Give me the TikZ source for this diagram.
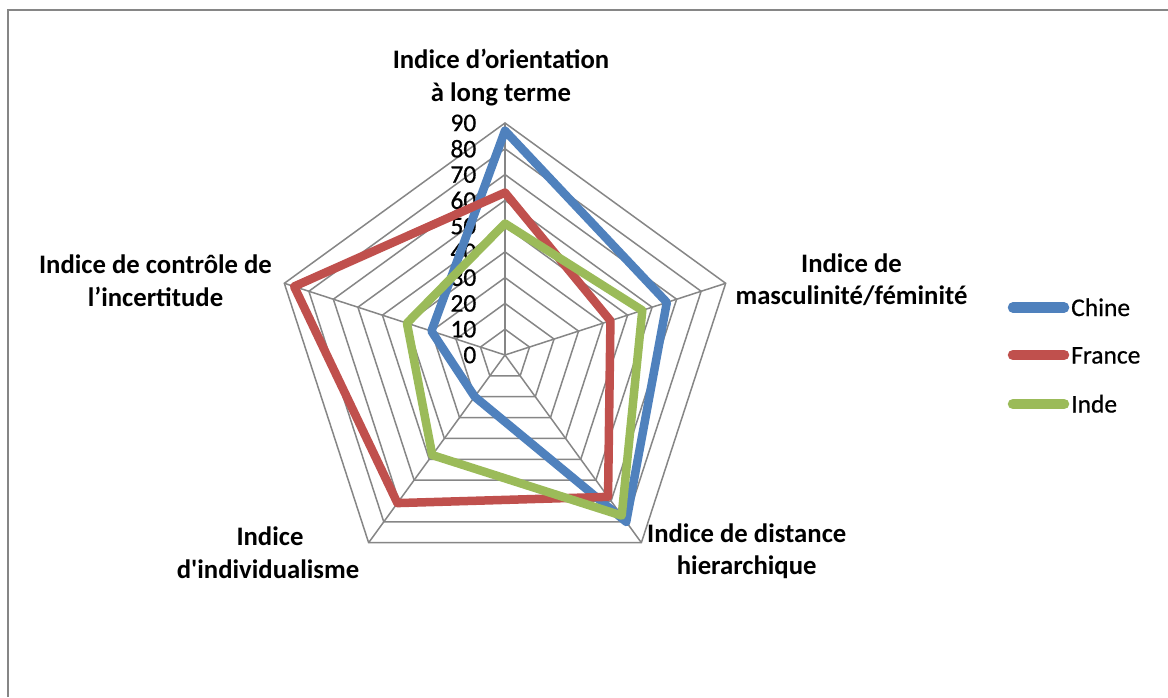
\documentclass[tikz,border=0pt]{standalone}
\usepackage{fontspec}
\setmainfont{Carlito}
\newfontfamily\regfont[FakeBold=0.6]{Carlito}
\definecolor{chine}{HTML}{4F81BD}
\definecolor{france}{HTML}{C0504D}
\definecolor{inde}{HTML}{9BBB59}
\definecolor{gridgray}{HTML}{868686}
\begin{document}
\begin{tikzpicture}[x=1pt,y=1pt,
  grid/.style={draw=gridgray, line width=1.5pt},
  series/.style={line width=8.5pt, line join=round},
  axlabel/.style={font=\fontsize{26.7}{33}\selectfont\bfseries, anchor=base, inner sep=0pt},
  tick/.style={font=\regfont\fontsize{25.5}{25.5}\selectfont, anchor=east, inner sep=0pt},
  legline/.style={line width=10.5pt, line cap=round},
  legtext/.style={font=\regfont\fontsize{25.5}{25.5}\selectfont, anchor=base west, inner sep=0pt}]
\useasboundingbox (0,0) rectangle (1168,-697);
\fill[white] (0,0) rectangle (1168,-697);
\draw[gridgray, line width=1.6pt] (8,-697) -- (8,-10) -- (1168,-10);
\def\s{2.578}
\begin{scope}[shift={(505,-355)}]
  \coordinate (O) at (0,0);
  \foreach \k in {1,...,9}{
    \pgfmathsetmacro\r{\k*25.78}
    \draw[grid] (90:\r) -- (18:\r) -- (-54:\r) -- (-126:\r) -- (162:\r) -- cycle;
  }
  \foreach \a in {90,18,-54,-126,162} \draw[grid] (O) -- (\a:232);
  \foreach \k in {0,...,9}{
    \pgfmathtruncatemacro\v{\k*10}
    \node[tick] (t\k) at (-28.5,{\k*25.78}) {\v};
  }
  \draw[series, chine] (90:87*\s) -- (18:66*\s) -- (-54:80*\s) -- (-126:20*\s) -- (162:30*\s) -- cycle;
  \draw[series, france] (90:63*\s) -- (18:43*\s) -- (-54:68*\s) -- (-126:71*\s) -- (162:86*\s) -- cycle;
  \draw[series, inde] (90:51*\s) -- (18:56*\s) -- (-54:77*\s) -- (-126:48*\s) -- (162:40*\s) -- cycle;
\end{scope}
% axis labels
\node[axlabel] (lto1) at (501,-68) {Indice d’orientation};
\node[axlabel] (lto2) at (501,-101) {à long terme};
\node[axlabel] (mas1) at (851.5,-272) {Indice de};
\node[axlabel] (mas2) at (851.5,-304) {masculinité/féminité};
\node[axlabel] (pdi1) at (746.7,-542) {Indice de distance};
\node[axlabel] (pdi2) at (746.7,-574) {hierarchique};
\node[axlabel] (idv1) at (270,-545) {Indice};
\node[axlabel] (idv2) at (268,-578) {d\textquotesingle individualisme};
\node[axlabel] (uai1) at (155.5,-273) {Indice de contrôle de};
\node[axlabel] (uai2) at (155.5,-306) {l’incertitude};
% legend
\coordinate (lc1) at (1013,-307.5); \coordinate (lc2) at (1064,-307.5);
\coordinate (lf1) at (1013,-355);   \coordinate (lf2) at (1064,-355);
\coordinate (li1) at (1013,-404);   \coordinate (li2) at (1064,-404);
\draw[legline, chine] (lc1) -- (lc2);
\draw[legline, france] (lf1) -- (lf2);
\draw[legline, inde] (li1) -- (li2);
\node[legtext] (lgc) at (1071,-316) {Chine};
\node[legtext] (lgf) at (1071,-363.5) {France};
\node[legtext] (lgi) at (1071,-412.5) {Inde};
\end{tikzpicture}
\end{document}
